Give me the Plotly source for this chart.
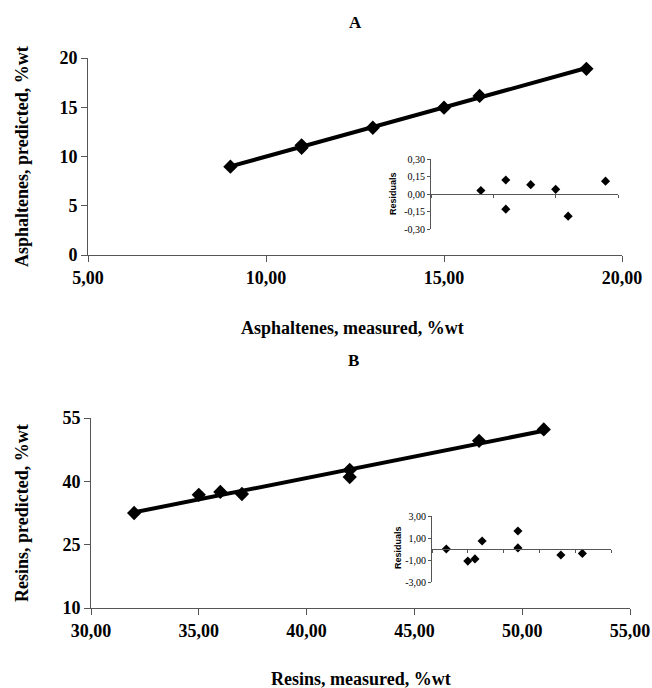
import numpy as np
import plotly.graph_objects as go

W, H = 652, 688

# ---------------- data ----------------
asph_measured = [9, 11, 11, 13, 15, 16, 19]
asph_predicted = [8.97, 10.88, 11.13, 12.92, 14.96, 16.15, 18.9]
asph_residuals = [0.03, 0.12, -0.13, 0.08, 0.04, -0.19, 0.11]

resin_measured = [32, 35, 36, 37, 42, 42, 48, 51]
resin_predicted = [32.5, 36.8, 37.5, 37.0, 42.7, 41.0, 49.6, 52.3]
resin_residuals = [0.0, -1.1, -0.9, 0.73, 1.64, 0.1, -0.55, -0.4]

asph_x_ticks = [5, 10, 15, 20]
asph_y_ticks = [0, 5, 10, 15, 20]
asph_res_ticks = [0.3, 0.15, 0.0, -0.15, -0.3]
asph_res_labels = ["0,30", "0,15", "0,00", "-0,15", "-0,30"]

resin_x_ticks = [30, 35, 40, 45, 50, 55]
resin_y_ticks = [10, 25, 40, 55]
resin_res_ticks = [3, 1, -1, -3]
resin_res_labels = ["3,00", "1,00", "-1,00", "-3,00"]


def fx(p):
    return p / W


def fy(p):
    return 1 - p / H


def fit_line(x, y):
    k, b = np.polyfit(x, y, 1)
    xs = np.array([min(x), max(x)])
    return xs, k * xs + b


fig = go.Figure()

# Panel A
lx, ly = fit_line(asph_measured, asph_predicted)
fig.add_trace(go.Scatter(x=lx, y=ly, mode="lines", line=dict(color="black", width=4),
                         xaxis="x", yaxis="y", showlegend=False))
fig.add_trace(go.Scatter(x=asph_measured, y=asph_predicted, mode="markers",
                         marker=dict(symbol="diamond", size=11, color="black"),
                         xaxis="x", yaxis="y", showlegend=False))
fig.add_trace(go.Scatter(x=asph_measured, y=asph_residuals, mode="markers",
                         marker=dict(symbol="diamond", size=7, color="black"),
                         xaxis="x2", yaxis="y2", showlegend=False))

# Panel B
lx, ly = fit_line(resin_measured, resin_predicted)
fig.add_trace(go.Scatter(x=lx, y=ly, mode="lines", line=dict(color="black", width=4),
                         xaxis="x3", yaxis="y3", showlegend=False))
fig.add_trace(go.Scatter(x=resin_measured, y=resin_predicted, mode="markers",
                         marker=dict(symbol="diamond", size=11, color="black"),
                         xaxis="x3", yaxis="y3", showlegend=False))
fig.add_trace(go.Scatter(x=resin_measured, y=resin_residuals, mode="markers",
                         marker=dict(symbol="diamond", size=7, color="black"),
                         xaxis="x4", yaxis="y4", showlegend=False))

serif = "Liberation Serif"
axcol = "#555555"
tickfont_main = dict(family=serif, size=18, color="black", weight="bold")
tickfont_inset = dict(family=serif, size=10, color="black")

common = dict(showgrid=False, zeroline=False, showline=True, linecolor=axcol, linewidth=1,
              ticks="outside", tickcolor=axcol, tickwidth=1, automargin=False, fixedrange=True)

fig.update_layout(
    width=W, height=H, template="none",
    margin=dict(l=0, r=0, t=0, b=0),
    paper_bgcolor="white", plot_bgcolor="rgba(0,0,0,0)",
    separators=",.",
    xaxis=dict(domain=[fx(88), fx(622)], range=[5, 20], anchor="y", tickvals=asph_x_ticks,
               tickformat=".2f", ticklen=6, tickfont=tickfont_main, **common),
    yaxis=dict(domain=[fy(255), fy(58)], range=[0, 20], anchor="x", tickvals=asph_y_ticks,
               ticklen=6, tickfont=tickfont_main, **common),
    xaxis2=dict(domain=[fx(431), fx(618)], range=[5, 20], anchor="free", position=fy(194),
                tickvals=asph_x_ticks, showticklabels=False, ticklen=3, **common),
    yaxis2=dict(domain=[fy(229), fy(159)], range=[-0.3, 0.3], anchor="x2",
                tickvals=asph_res_ticks, ticktext=asph_res_labels, ticklen=3,
                tickfont=tickfont_inset, **common),
    xaxis3=dict(domain=[fx(91), fx(630)], range=[30, 55], anchor="y3", tickvals=resin_x_ticks,
                tickformat=".2f", ticklen=6, tickfont=tickfont_main, **common),
    yaxis3=dict(domain=[fy(608), fy(418)], range=[10, 55], anchor="x3", tickvals=resin_y_ticks,
                ticklen=6, tickfont=tickfont_main, **common),
    xaxis4=dict(domain=[fx(432), fx(611)], range=[30, 55], anchor="free", position=fy(549),
                tickvals=resin_x_ticks, showticklabels=False, ticklen=3, **common),
    yaxis4=dict(domain=[fy(582), fy(516)], range=[-3, 3], anchor="x4",
                tickvals=resin_res_ticks, ticktext=resin_res_labels, ticklen=3,
                tickfont=tickfont_inset, **common),
)


def ann(text, x, y, size=18, angle=0, family=serif):
    fig.add_annotation(text=text, x=fx(x), y=fy(y), xref="paper", yref="paper",
                       showarrow=False, textangle=angle, xanchor="center", yanchor="middle",
                       font=dict(family=family, size=size, color="black", weight="bold"))


ann("A", 355, 23, size=17)
ann("Asphaltenes, measured, %wt", 352, 328)
ann("Asphaltenes, predicted, %wt", 22, 157, angle=-90)
ann("Residuals", 393, 194, size=9, angle=-90, family="Liberation Sans")

ann("B", 353, 360, size=17)
ann("Resins, measured, %wt", 361, 679)
ann("Resins, predicted, %wt", 22, 513, angle=-90)
ann("Residuals", 398, 548, size=9, angle=-90, family="Liberation Sans")

fig.write_html("out.html")
